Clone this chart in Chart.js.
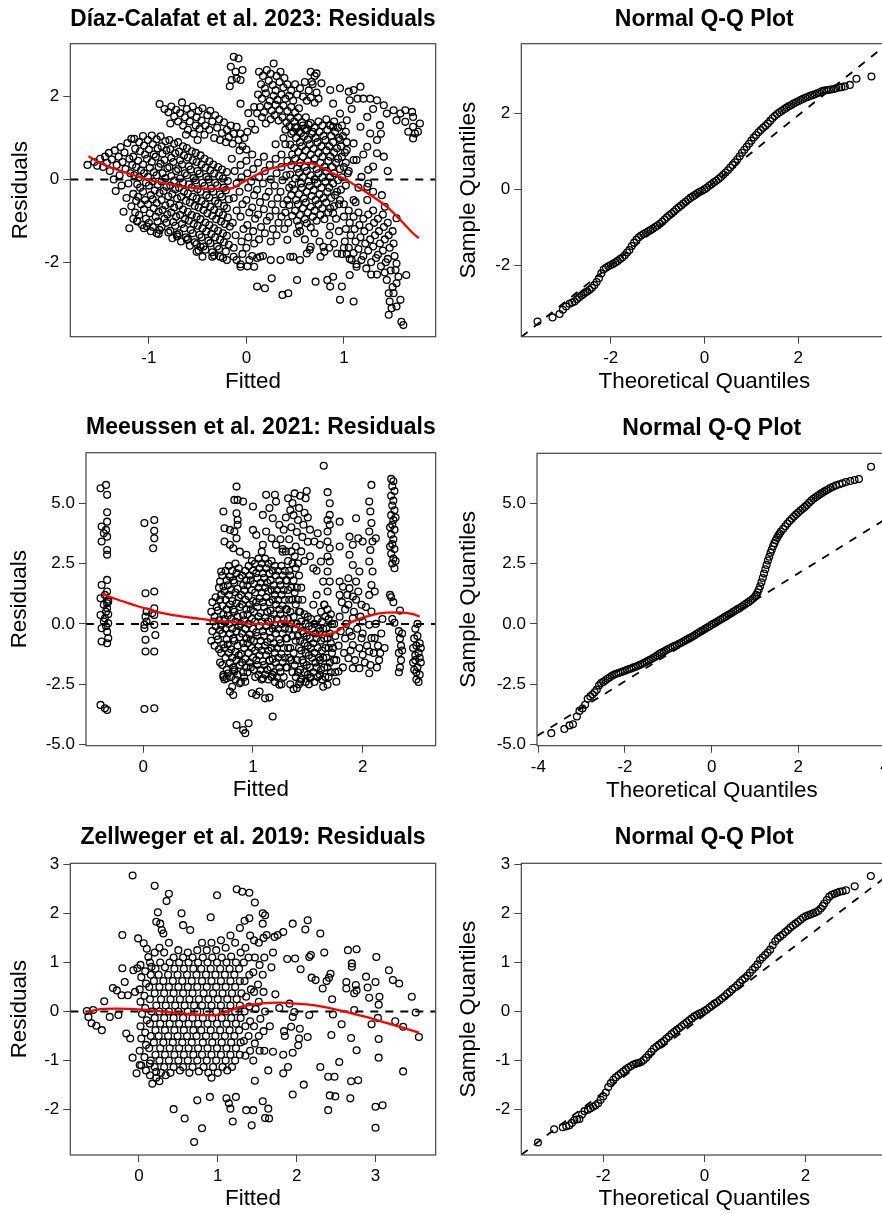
<!DOCTYPE html>
<html>
<head>
<meta charset="utf-8">
<script src="https://cdn.jsdelivr.net/npm/chart.js@4.4.1/dist/chart.umd.min.js"></script>
<style>
html, body { margin: 0; padding: 0; background: #fff; overflow: hidden; }
#page { position: relative; width: 882px; height: 1214px; overflow: hidden; background: #fff; }
#page canvas { position: absolute; }
</style>
</head>
<body>
<div id="page">
  <canvas id="p1" width="441" height="405" style="left:0;top:0"></canvas>
  <canvas id="p2" width="470" height="405" style="left:441px;top:0"></canvas>
  <canvas id="p3" width="441" height="410" style="left:0;top:405px"></canvas>
  <canvas id="p4" width="470" height="410" style="left:441px;top:405px"></canvas>
  <canvas id="p5" width="441" height="399" style="left:0;top:815px"></canvas>
  <canvas id="p6" width="470" height="399" style="left:441px;top:815px"></canvas>
</div>
<script>
// ---- tick labels ----
const diazXTicks = [-1, 0, 1];
const diazYTicks = [-2, 0, 2];
const diazQQXTicks = [-2, 0, 2];
const diazQQYTicks = [-2, 0, 2];
const meeXTicks = [0, 1, 2];
const meeYTicks = [-5, -2.5, 0, 2.5, 5];
const meeQQXTicks = [-4, -2, 0, 2, 4];
const meeQQYTicks = [-5, -2.5, 0, 2.5, 5];
const zelXTicks = [0, 1, 2, 3];
const zelYTicks = [-2, -1, 0, 1, 2, 3];
const zelQQXTicks = [-2, 0, 2];
const zelQQYTicks = [-2, -1, 0, 1, 2, 3];

// ---- Díaz-Calafat et al. 2023: [fitted, residual] ----
const diazPoints = [
[-1.63,0.35],[-1.56,0.42],[-1.53,0.33],[-1.5,0.5],[-1.47,0.3],[-1.45,0.55],[-1.43,0.4],[-1.41,0.64],[-1.4,0.2],[-1.38,0.48],[-1.36,0.0],[-1.35,0.7],[-1.34,-0.28],[-1.33,0.35],[-1.31,0.55],[-1.3,0.1],[-1.29,0.78],[-1.28,-0.15],[-1.27,0.42],[-1.26,-0.78],[-1.25,0.65],[-1.24,0.25],[-1.23,-0.45],[-1.22,0.88],[-1.21,-0.1],[-1.2,-1.18],[-1.2,0.5],[-1.19,0.15],[-1.18,-0.65],[-1.18,0.98],[-1.16,-0.95],[-1.17,0.35],
[-1.15,0.98],[-1.14,0.74],[-1.16,0.55],[-1.13,0.3],[-1.15,0.1],[-1.12,-0.12],[-1.16,-0.35],[-1.13,-0.52],[-1.14,-0.8],[-1.12,-1.0],
[-1.1,0.9],[-1.09,0.68],[-1.11,0.45],[-1.08,0.22],[-1.1,0.05],[-1.09,-0.2],[-1.11,-0.42],[-1.08,-0.6],[-1.1,-0.86],[-1.07,-1.1],
[-1.06,1.05],[-1.05,0.82],[-1.04,0.6],[-1.06,0.36],[-1.05,0.15],[-1.03,-0.08],[-1.06,-0.3],[-1.04,-0.5],[-1.05,-0.72],[-1.03,-0.95],[-1.05,-1.18],
[-1.01,0.95],[-1.0,0.72],[-1.02,0.5],[-0.99,0.28],[-1.01,0.06],[-1.0,-0.15],[-0.98,-0.38],[-1.01,-0.6],[-0.99,-0.82],[-1.0,-1.05],[-0.98,-1.25],
[-0.97,1.06],[-0.96,0.85],[-0.95,0.6],[-0.97,0.42],[-0.95,0.17],[-0.96,-0.05],[-0.94,-0.27],[-0.96,-0.48],[-0.95,-0.7],[-0.93,-0.9],[-0.96,-1.15],
[-0.92,0.97],[-0.91,0.75],[-0.93,0.55],[-0.9,0.3],[-0.92,0.1],[-0.91,-0.13],[-0.89,-0.33],[-0.92,-0.57],[-0.9,-0.78],[-0.91,-1.02],[-0.89,-1.22],[-0.9,-1.32],
[-0.88,1.04],[-0.87,0.8],[-0.86,0.62],[-0.88,0.38],[-0.86,0.15],[-0.87,-0.05],[-0.85,-0.28],[-0.87,-0.5],[-0.86,-0.74],[-0.84,-0.95],[-0.87,-1.15],
[-0.83,0.92],[-0.82,0.7],[-0.84,0.47],[-0.81,0.27],[-0.83,0.03],[-0.82,-0.18],[-0.8,-0.41],[-0.83,-0.63],[-0.81,-0.85],[-0.82,-1.05],[-0.8,-1.28],
[-0.79,0.95],[-0.78,0.73],[-0.77,0.52],[-0.79,0.3],[-0.77,0.08],[-0.78,-0.15],[-0.76,-0.35],[-0.78,-0.58],[-0.77,-0.8],[-0.75,-1.03],[-0.78,-1.24],[-0.76,-1.42],
[-0.74,0.86],[-0.73,0.63],[-0.75,0.42],[-0.72,0.2],[-0.74,-0.03],[-0.73,-0.24],[-0.71,-0.46],[-0.74,-0.68],[-0.72,-0.9],[-0.73,-1.12],[-0.71,-1.33],
[-0.7,0.9],[-0.69,0.67],[-0.68,0.46],[-0.7,0.25],[-0.68,0.02],[-0.69,-0.2],[-0.67,-0.42],[-0.69,-0.63],[-0.68,-0.86],[-0.66,-1.08],[-0.69,-1.3],[-0.67,-1.5],
[-0.65,0.8],[-0.64,0.58],[-0.66,0.36],[-0.63,0.15],[-0.65,-0.08],[-0.64,-0.3],[-0.62,-0.52],[-0.65,-0.73],[-0.63,-0.96],[-0.64,-1.18],[-0.62,-1.4],
[-0.61,0.76],[-0.6,0.53],[-0.59,0.32],[-0.61,0.1],[-0.59,-0.12],[-0.6,-0.34],[-0.58,-0.56],[-0.6,-0.78],[-0.59,-1.0],[-0.57,-1.22],[-0.6,-1.44],[-0.58,-1.6],
[-0.56,0.68],[-0.55,0.46],[-0.57,0.24],[-0.54,0.03],[-0.56,-0.2],[-0.55,-0.42],[-0.53,-0.64],[-0.56,-0.86],[-0.54,-1.08],[-0.55,-1.3],[-0.53,-1.52],
[-0.52,0.64],[-0.51,0.42],[-0.5,0.2],[-0.52,-0.02],[-0.5,-0.24],[-0.51,-0.46],[-0.49,-0.68],[-0.51,-0.9],[-0.5,-1.12],[-0.48,-1.34],[-0.51,-1.56],[-0.49,-1.72],
[-0.47,0.58],[-0.46,0.36],[-0.48,0.14],[-0.45,-0.08],[-0.47,-0.3],[-0.46,-0.52],[-0.44,-0.74],[-0.47,-0.96],[-0.45,-1.18],[-0.46,-1.4],[-0.44,-1.62],
[-0.43,0.5],[-0.42,0.28],[-0.41,0.06],[-0.43,-0.16],[-0.41,-0.38],[-0.42,-0.6],[-0.4,-0.82],[-0.42,-1.04],[-0.41,-1.26],[-0.39,-1.48],[-0.42,-1.7],
[-0.38,0.44],[-0.37,0.22],[-0.39,0.0],[-0.36,-0.22],[-0.38,-0.44],[-0.37,-0.66],[-0.35,-0.88],[-0.38,-1.1],[-0.36,-1.32],[-0.37,-1.54],[-0.35,-1.76],
[-0.34,0.36],[-0.33,0.14],[-0.32,-0.08],[-0.34,-0.3],[-0.32,-0.52],[-0.33,-0.74],[-0.31,-0.96],[-0.33,-1.18],[-0.32,-1.4],[-0.3,-1.62],[-0.33,-1.84],
[-0.29,0.3],[-0.28,0.08],[-0.3,-0.14],[-0.27,-0.36],[-0.29,-0.58],[-0.28,-0.8],[-0.26,-1.02],[-0.29,-1.24],[-0.27,-1.46],[-0.28,-1.68],
[-0.25,0.24],[-0.24,0.02],[-0.23,-0.2],[-0.25,-0.42],[-0.23,-0.64],[-0.24,-0.86],[-0.22,-1.08],[-0.24,-1.3],[-0.23,-1.52],[-0.21,-1.74],[-0.24,-1.9],
[-0.2,0.18],[-0.19,-0.04],[-0.21,-0.26],[-0.18,-0.48],[-0.2,-0.7],[-0.19,-0.92],[-0.17,-1.14],[-0.2,-1.36],[-0.18,-1.58],
[-0.89,1.82],[-0.84,1.7],[-0.8,1.62],[-0.77,1.76],[-0.74,1.52],[-0.72,1.68],[-0.7,1.4],[-0.68,1.6],[-0.66,1.86],[-0.65,1.3],[-0.63,1.5],[-0.61,1.7],[-0.6,1.2],[-0.58,1.4],[-0.57,1.58],[-0.55,1.76],[-0.54,1.1],[-0.52,1.3],[-0.51,1.5],[-0.49,1.65],[-0.48,1.22],[-0.46,1.42],[-0.45,1.72],[-0.43,1.08],[-0.42,1.3],[-0.4,1.55],[-0.38,1.2],[-0.37,1.66],[-0.35,1.4],[-0.33,1.0],[-0.32,1.55],[-0.3,1.25],[-0.28,1.45],[-0.27,0.95],[-0.25,1.12],[-0.23,1.38],[-0.21,0.9],[-0.2,1.2],[-0.18,1.02],[-0.16,1.3],[-0.14,0.86],[-0.13,1.1],[-0.1,1.27],[-0.08,0.95],[-0.06,1.11],[-0.04,0.8],[-0.02,1.0],[0.01,1.15],[0.0,0.72],[-0.78,1.35],[-0.62,1.08],[-0.5,0.95],
[-0.16,2.72],[-0.13,2.96],[-0.08,2.92],[-0.17,2.25],[-0.1,2.44],[-0.15,2.4],[-0.04,2.64],[-0.06,2.4],[-0.11,2.6],[-0.06,1.83],[0.08,1.75],[0.02,1.6],[0.11,1.6],
[0.13,2.6],[0.17,2.5],[0.21,2.64],[0.25,2.55],[0.28,2.8],[0.31,2.5],[0.35,2.6],[0.39,2.45],[0.15,2.3],[0.19,2.2],[0.23,2.38],[0.27,2.28],[0.3,2.15],[0.34,2.35],[0.38,2.22],[0.42,2.3],[0.46,2.15],[0.12,2.05],[0.16,1.95],[0.2,2.08],[0.24,1.9],[0.28,2.02],[0.32,1.92],[0.36,2.05],[0.4,1.95],[0.44,2.02],[0.48,1.9],[0.52,2.05],[0.14,1.75],[0.18,1.62],[0.22,1.78],[0.26,1.66],[0.3,1.8],[0.34,1.68],[0.38,1.78],[0.42,1.65],[0.46,1.75],[0.5,1.62],[0.54,1.72],[0.25,1.45],[0.29,1.55],[0.33,1.42],[0.37,1.5],[0.41,1.38],[0.45,1.48],[0.49,1.4],[0.53,1.5],[0.57,1.38],[0.61,1.5],[0.4,1.2],[0.44,1.28],[0.48,1.15],[0.52,1.25],[0.56,1.12],[0.6,1.22],[0.64,1.32],[0.68,1.15],[0.5,2.3],[0.55,2.2],[0.6,2.35],[0.64,2.15],[0.68,2.3],[0.72,2.1],[0.7,2.5],[0.66,2.6],[0.58,2.0],[0.62,1.9],[0.66,1.98],[0.7,1.85],[0.74,1.95],[0.2,1.35],[0.16,1.5],[0.09,1.2],[0.05,1.35],
[0.46,1.1],[0.45,0.84],[0.47,0.6],[0.46,0.34],[0.45,0.12],[0.47,-0.13],[0.46,-0.38],[0.44,-0.62],[0.47,-0.88],
[0.5,1.26],[0.51,1.0],[0.49,0.76],[0.5,0.5],[0.52,0.26],[0.5,0.02],[0.49,-0.24],[0.51,-0.5],[0.5,-0.76],[0.52,-1.0],
[0.54,1.15],[0.55,0.9],[0.53,0.66],[0.55,0.4],[0.54,0.16],[0.56,-0.1],[0.54,-0.36],[0.53,-0.6],[0.55,-0.86],[0.54,-1.12],
[0.58,1.3],[0.59,1.04],[0.57,0.8],[0.58,0.55],[0.6,0.3],[0.58,0.05],[0.57,-0.2],[0.59,-0.46],[0.58,-0.7],[0.6,-0.96],
[0.62,1.2],[0.63,0.96],[0.61,0.7],[0.63,0.44],[0.62,0.2],[0.64,-0.05],[0.62,-0.3],[0.61,-0.56],[0.63,-0.8],[0.62,-1.06],
[0.66,1.36],[0.67,1.1],[0.65,0.85],[0.66,0.6],[0.68,0.35],[0.66,0.1],[0.65,-0.16],[0.67,-0.4],[0.66,-0.66],[0.68,-0.9],[0.66,-1.16],
[0.7,1.25],[0.71,1.0],[0.69,0.74],[0.7,0.5],[0.72,0.25],[0.7,0.0],[0.69,-0.26],[0.71,-0.5],[0.7,-0.76],[0.72,-1.0],
[0.74,1.4],[0.75,1.15],[0.73,0.9],[0.74,0.64],[0.76,0.4],[0.74,0.15],[0.73,-0.1],[0.75,-0.36],[0.74,-0.6],[0.76,-0.86],
[0.78,1.3],[0.79,1.05],[0.77,0.8],[0.78,0.55],[0.8,0.3],[0.78,0.05],[0.77,-0.2],[0.79,-0.45],[0.78,-0.7],[0.8,-0.96],
[0.82,1.45],[0.83,1.2],[0.81,0.95],[0.82,0.7],[0.84,0.45],[0.82,0.2],[0.81,-0.05],[0.83,-0.3],[0.82,-0.56],[0.84,-0.8],
[0.86,1.3],[0.87,1.05],[0.85,0.8],[0.86,0.55],[0.88,0.3],[0.86,0.05],[0.85,-0.2],[0.87,-0.45],[0.86,-0.7],
[0.9,1.4],[0.91,1.15],[0.89,0.9],[0.9,0.65],[0.92,0.4],[0.9,0.15],[0.89,-0.1],[0.91,-0.38],[0.9,-0.65],
[0.94,1.25],[0.95,1.0],[0.93,0.75],[0.94,0.5],[0.96,0.25],[0.94,-0.02],[0.93,-0.3],[0.95,-0.6],
[0.98,1.3],[0.99,1.05],[0.97,0.8],[0.98,0.55],[1.0,0.3],[0.98,0.05],[0.97,-0.25],
[1.02,1.15],[1.03,0.9],[1.01,0.65],[1.02,0.4],[1.04,0.15],[1.02,-0.15],
[0.89,-0.82],[0.96,-0.5],[0.86,-1.14],[0.92,-0.95],[1.0,-0.6],[0.55,-1.25],[0.6,-1.45],[0.7,-1.3],[0.75,-1.5],[0.85,-1.35],[0.9,-1.55],[0.95,-1.25],[0.65,-1.7],[0.8,-1.75],[1.0,-1.65],[0.98,-1.8],[0.85,-1.65],
[-0.15,0.5],[-0.12,0.2],[-0.1,-0.1],[-0.13,-0.45],[-0.1,-0.75],[-0.14,-1.05],[-0.11,-1.35],[-0.13,-1.65],[-0.1,-1.95],[-0.07,0.7],[-0.06,0.35],[-0.05,0.05],[-0.07,-0.3],[-0.04,-0.6],[-0.06,-0.9],[-0.03,-1.2],[-0.05,-1.5],[-0.04,-1.8],[-0.06,-2.05],[0.0,0.45],[0.01,0.15],[0.02,-0.2],[0.0,-0.5],[0.03,-0.8],[0.01,-1.1],[0.02,-1.4],[0.0,-1.65],[0.03,-1.95],[0.01,-2.1],[0.06,0.6],[0.07,0.25],[0.05,-0.05],[0.08,-0.38],[0.06,-0.68],[0.09,-0.95],[0.07,-1.25],[0.08,-1.55],[0.06,-1.85],[0.12,0.4],[0.13,0.05],[0.11,-0.25],[0.14,-0.55],[0.12,-0.85],[0.15,-1.15],[0.13,-1.45],[0.11,-1.9],[0.18,0.55],[0.19,0.2],[0.17,-0.1],[0.2,-0.42],[0.18,-0.72],[0.21,-1.0],[0.19,-1.3],[0.17,-1.85],[0.24,0.35],[0.25,0.0],[0.23,-0.3],[0.26,-0.6],[0.24,-0.9],[0.27,-1.2],[0.25,-1.5],[0.3,0.5],[0.31,0.15],[0.29,-0.15],[0.32,-0.45],[0.3,-0.75],[0.33,-1.05],[0.31,-1.35],[0.36,0.3],[0.37,-0.02],[0.35,-0.3],[0.38,-0.6],[0.36,-0.9],[0.39,-1.2],[0.41,0.1],[0.42,-0.5],[0.4,-0.8],[0.43,-1.05],[0.44,-0.2],[0.36,0.6],[0.4,0.85],[0.42,0.45],[0.38,1.0],[0.3,0.85],
[1.0,-0.9],[1.02,-1.2],[1.01,-1.5],[1.03,-1.8],[1.05,-0.75],[1.06,-1.05],[1.07,-1.35],[1.05,-1.65],[1.08,-1.95],[1.1,-0.9],[1.11,-1.2],[1.12,-1.5],[1.1,-1.78],[1.13,-2.05],[1.15,-0.8],[1.16,-1.1],[1.17,-1.4],[1.15,-1.68],[1.18,-1.95],[1.2,-0.95],[1.21,-1.25],[1.22,-1.55],[1.2,-1.85],[1.23,-2.15],[1.25,-0.85],[1.26,-1.15],[1.27,-1.45],[1.25,-1.72],[1.28,-2.0],[1.3,-0.75],[1.31,-1.05],[1.32,-1.35],[1.3,-1.62],[1.33,-1.9],[1.35,-0.95],[1.36,-1.25],[1.37,-1.55],[1.35,-1.82],[1.38,-2.1],[1.4,-0.85],[1.41,-1.15],[1.42,-1.45],[1.4,-1.72],[1.43,-2.0],[1.45,-1.05],[1.46,-1.35],[1.47,-1.65],[1.45,-1.92],[1.48,-2.2],[1.5,-1.25],[1.51,-1.55],[1.52,-1.85],[1.34,-2.3],[1.28,-2.3],[1.06,-1.92],[1.12,-0.55],
[1.44,-2.43],[1.46,-2.75],[1.47,-2.95],[1.46,-3.27],[1.51,-2.75],[1.54,-2.51],[1.53,-2.19],[1.56,-2.35],[1.59,-3.44],[1.61,-3.52],[1.54,-2.03],[1.64,-2.31],[1.49,-3.11],[1.54,-3.07],[1.58,-2.91],[1.5,-2.6],[1.42,-2.25],
[0.72,2.56],[0.67,2.36],[0.77,2.32],[0.86,2.16],[0.96,2.2],[1.05,2.12],[1.1,2.16],[1.17,2.24],[1.06,1.91],[1.2,1.95],[1.27,1.95],[1.34,1.91],[1.41,1.79],[1.51,1.67],[1.58,1.59],[1.63,1.67],[1.7,1.63],[1.71,1.51],[1.71,1.27],[1.73,1.11],[1.71,0.99],[1.78,1.35],[1.76,1.15],[1.66,1.15],[1.63,1.39],[1.54,1.43],[1.37,1.31],[1.44,1.59],[1.24,1.51],[1.17,1.27],[1.27,1.11],[1.34,0.95],[1.24,0.79],[1.41,0.55],[1.3,0.31],[1.1,0.87],[1.13,0.47],[1.18,0.06],[1.25,0.23],[1.34,0.63],[0.89,1.83],[0.96,1.59],[1.03,1.43],[0.89,1.27],[0.96,0.95],[1.03,0.71],[1.1,0.47],[1.25,-0.1],[1.24,-0.18],[1.39,-0.38],[1.54,-0.94],[1.24,-0.5],[1.1,-0.5],[1.42,-0.66],[1.08,1.7],[1.14,1.95],[1.3,1.7],[1.2,0.6],[1.38,1.1],[1.45,0.2],[1.15,-0.2],[1.3,-0.3],[1.05,0.2],
[0.11,-2.59],[0.19,-2.63],[0.37,-2.79],[0.43,-2.75],[0.26,-2.39],[0.25,-1.95],[0.14,-1.87],[0.08,-2.11],[0.35,-1.95],[0.45,-1.87],[0.52,-2.43],[0.55,-1.95],[0.62,-1.79],[0.71,-2.47],[0.76,-1.87],[0.83,-2.43],[0.86,-2.59],[0.89,-2.35],[0.93,-1.79],[0.96,-2.91],[0.98,-2.59],[1.06,-2.31],[1.1,-2.95],[1.13,-2.11],[0.48,-1.87],[0.66,-1.63],[0.79,-1.63],[0.42,-1.46],[0.52,-1.3],[-0.06,-2.11],[-0.13,-1.87],[-0.2,-1.95],[-0.27,-1.87],[-0.35,-1.87],[-0.45,-1.87],[-0.51,-1.75],[-0.47,-1.63],[-0.61,-1.46],[-0.71,-1.38],[-0.92,-1.3],[-1.02,-1.14],[-1.12,-1.02]
];
const diazLowess = [[-1.62,0.56],[-1.49,0.39],[-1.32,0.23],[-1.15,0.1],[-0.99,-0.02],[-0.81,-0.11],[-0.64,-0.18],[-0.47,-0.22],[-0.3,-0.23],[-0.16,-0.22],[-0.06,-0.1],[0.08,0.08],[0.21,0.23],[0.38,0.33],[0.55,0.4],[0.66,0.39],[0.79,0.27],[0.89,0.14],[1.03,-0.02],[1.17,-0.22],[1.3,-0.42],[1.44,-0.66],[1.58,-0.98],[1.71,-1.3],[1.77,-1.42]];

// ---- Díaz-Calafat Q-Q: [theoretical, sample] ----
const diazQQ = [
[-3.56,-3.49],[-3.24,-3.38],[-3.09,-3.29],[-3.02,-3.18],[-2.95,-3.09],[-2.88,-3.02],[-2.82,-2.99],[-2.77,-2.96],[-2.72,-2.9],[-2.67,-2.85],[-2.62,-2.8],[-2.58,-2.76],[-2.54,-2.72],
[-2.5,-2.7],[-2.45,-2.65],[-2.4,-2.6],[-2.35,-2.53],[-2.3,-2.45],[-2.25,-2.35],[-2.2,-2.22],[-2.15,-2.12],[-2.1,-2.07],[-2.05,-2.03],[-2.0,-2.0],[-1.95,-1.97],[-1.9,-1.93],[-1.85,-1.89],[-1.8,-1.84],[-1.75,-1.8],[-1.7,-1.74],[-1.65,-1.67],[-1.6,-1.6],[-1.55,-1.5],[-1.5,-1.41],[-1.45,-1.33],[-1.4,-1.27],[-1.35,-1.22],[-1.3,-1.18],[-1.25,-1.15],[-1.2,-1.11],[-1.15,-1.08],[-1.1,-1.04],[-1.05,-1.0],[-1.0,-0.96],[-0.95,-0.91],[-0.9,-0.86],[-0.85,-0.8],[-0.8,-0.74],[-0.75,-0.69],[-0.7,-0.64],[-0.65,-0.59],[-0.6,-0.53],[-0.55,-0.48],[-0.5,-0.43],[-0.45,-0.38],[-0.4,-0.33],[-0.35,-0.28],[-0.3,-0.23],[-0.25,-0.19],[-0.2,-0.15],[-0.15,-0.11],[-0.1,-0.07],[-0.05,-0.04],
[0.0,0.0],[0.05,0.04],[0.1,0.09],[0.15,0.13],[0.2,0.18],[0.25,0.22],[0.3,0.27],[0.35,0.32],[0.4,0.38],[0.45,0.44],[0.5,0.5],[0.55,0.57],[0.6,0.64],[0.65,0.71],[0.7,0.79],[0.75,0.87],[0.8,0.96],[0.85,1.04],[0.9,1.12],[0.95,1.2],[1.0,1.28],[1.05,1.36],[1.1,1.43],[1.15,1.5],[1.2,1.56],[1.25,1.62],[1.3,1.67],[1.35,1.73],[1.4,1.8],[1.45,1.87],[1.5,1.93],[1.55,1.98],[1.6,2.03],[1.65,2.07],[1.7,2.11],[1.75,2.15],[1.8,2.19],[1.85,2.22],[1.9,2.26],[1.95,2.29],[2.0,2.32],[2.05,2.35],[2.1,2.38],[2.15,2.41],[2.2,2.43],[2.25,2.46],[2.3,2.48],[2.35,2.5],[2.4,2.53],[2.45,2.55],[2.5,2.58],
[2.55,2.6],[2.6,2.61],[2.65,2.62],[2.7,2.63],[2.76,2.64],[2.81,2.66],[2.87,2.68],[2.92,2.69],[2.99,2.71],[3.1,2.75],[3.24,2.91],[3.56,2.97]
];
const diazQQLine = [-0.03, 0.99]; // intercept, slope

// ---- Meeussen et al. 2021: [fitted, residual] ----
const meePoints = [
[-0.39,5.61],[-0.34,5.75],[-0.33,5.34],[-0.33,4.62],[-0.33,4.23],[-0.38,4.03],[-0.36,3.75],[-0.34,3.89],[-0.38,3.41],[-0.33,3.61],[-0.33,3.06],[-0.33,2.86],[-0.33,1.82],[-0.38,1.61],[-0.33,1.34],[-0.39,1.06],[-0.36,0.79],[-0.32,0.92],[-0.33,0.65],[-0.39,0.37],[-0.35,0.23],[-0.32,0.03],[-0.38,-0.18],[-0.33,-0.32],[-0.32,-0.59],[-0.38,-0.73],[-0.33,-0.8],[-0.39,-3.35],[-0.35,-3.49],[-0.33,-3.56],[-0.34,0.5],[-0.32,1.0],[-0.36,0.1],[-0.33,0.85],[-0.35,1.2],[-0.32,0.4],[-0.34,-0.1],
[0.01,4.17],[0.1,4.3],[0.1,3.85],[0.1,3.54],[0.09,3.13],[0.02,1.27],[0.1,1.34],[0.03,0.51],[0.1,0.65],[0.02,0.3],[0.1,0.37],[0.01,-0.04],[0.1,-0.04],[0.02,-0.66],[0.11,-0.46],[0.02,-1.14],[0.1,-1.14],[0.01,-3.52],[0.1,-3.49],[0.03,0.1],[0.08,0.44],[0.01,-0.18],
[0.63,0.9],[0.62,0.5],[0.64,0.1],[0.63,-0.3],[0.62,-0.7],
[0.66,1.1],[0.67,0.7],[0.65,0.3],[0.66,-0.1],[0.67,-0.5],[0.65,-0.9],
[0.69,1.5],[0.7,1.0],[0.68,0.55],[0.69,0.15],[0.7,-0.25],[0.68,-0.65],[0.69,-1.05],[0.7,-1.6],
[0.72,2.0],[0.73,1.55],[0.71,1.2],[0.72,0.75],[0.73,0.4],[0.71,-0.05],[0.72,-0.4],[0.73,-0.85],[0.71,-1.2],[0.72,-1.7],[0.73,-2.2],
[0.75,2.2],[0.76,1.8],[0.74,1.35],[0.75,1.0],[0.76,0.6],[0.74,0.2],[0.75,-0.2],[0.76,-0.65],[0.74,-1.0],[0.75,-1.4],[0.76,-1.9],[0.74,-2.3],
[0.78,2.4],[0.79,1.95],[0.77,1.6],[0.78,1.2],[0.79,0.8],[0.77,0.35],[0.78,0.0],[0.79,-0.4],[0.77,-0.85],[0.78,-1.2],[0.79,-1.6],[0.77,-2.05],
[0.81,2.2],[0.82,1.8],[0.8,1.4],[0.81,0.95],[0.82,0.6],[0.8,0.2],[0.81,-0.2],[0.82,-0.6],[0.8,-1.05],[0.81,-1.4],[0.82,-1.8],[0.8,-2.2],[0.81,-2.6],
[0.84,2.5],[0.85,2.1],[0.83,1.7],[0.84,1.3],[0.85,0.85],[0.83,0.5],[0.84,0.1],[0.85,-0.3],[0.83,-0.7],[0.84,-1.15],[0.85,-1.5],[0.83,-1.9],[0.84,-2.3],
[0.87,2.3],[0.88,1.9],[0.86,1.45],[0.87,1.1],[0.88,0.7],[0.86,0.3],[0.87,-0.1],[0.88,-0.55],[0.86,-0.9],[0.87,-1.3],[0.88,-1.7],[0.86,-2.1],
[0.9,2.0],[0.91,1.6],[0.89,1.2],[0.9,0.8],[0.91,0.35],[0.89,0.0],[0.9,-0.4],[0.91,-0.8],[0.89,-1.25],[0.9,-1.6],[0.91,-2.0],[0.89,-2.4],
[0.93,2.2],[0.94,1.8],[0.92,1.4],[0.93,1.0],[0.94,0.6],[0.92,0.15],[0.93,-0.2],[0.94,-0.6],[0.92,-1.0],[0.93,-1.45],[0.94,-1.8],[0.92,-2.2],
[0.96,2.4],[0.97,2.0],[0.95,1.6],[0.96,1.15],[0.97,0.8],[0.95,0.4],[0.96,0.0],[0.97,-0.45],[0.95,-0.8],[0.96,-1.2],[0.97,-1.6],[0.95,-2.0],
[0.99,2.6],[1.0,2.2],[0.98,1.8],[0.99,1.4],[1.0,0.95],[0.98,0.6],[0.99,0.2],[1.0,-0.2],[0.98,-0.65],[0.99,-1.0],[1.0,-1.4],[0.98,-1.8],
[1.02,2.5],[1.03,2.1],[1.01,1.65],[1.02,1.3],[1.03,0.9],[1.01,0.5],[1.02,0.1],[1.03,-0.35],[1.01,-0.7],[1.02,-1.1],[1.03,-1.5],[1.01,-1.9],[1.02,-2.2],
[1.05,2.7],[1.06,2.3],[1.04,1.9],[1.05,1.5],[1.06,1.05],[1.04,0.7],[1.05,0.3],[1.06,-0.1],[1.04,-0.5],[1.05,-0.95],[1.06,-1.3],[1.04,-1.7],[1.05,-2.1],
[1.08,2.5],[1.09,2.1],[1.07,1.7],[1.08,1.3],[1.09,0.9],[1.07,0.45],[1.08,0.1],[1.09,-0.3],[1.07,-0.7],[1.08,-1.1],[1.09,-1.55],[1.07,-1.9],[1.08,-2.3],
[1.11,2.7],[1.12,2.3],[1.1,1.9],[1.11,1.5],[1.12,1.1],[1.1,0.7],[1.11,0.25],[1.12,-0.1],[1.1,-0.5],[1.11,-0.9],[1.12,-1.3],[1.1,-1.7],[1.11,-2.1],
[1.14,2.5],[1.15,2.1],[1.13,1.7],[1.14,1.35],[1.15,0.9],[1.13,0.5],[1.14,0.1],[1.15,-0.3],[1.13,-0.75],[1.14,-1.1],[1.15,-1.5],[1.13,-1.9],[1.14,-2.3],
[1.17,2.6],[1.18,2.2],[1.16,1.8],[1.17,1.4],[1.18,1.0],[1.16,0.55],[1.17,0.2],[1.18,-0.2],[1.16,-0.6],[1.17,-1.0],[1.18,-1.45],[1.16,-1.8],[1.17,-2.2],
[1.2,2.4],[1.21,2.0],[1.19,1.6],[1.2,1.2],[1.21,0.8],[1.19,0.4],[1.2,-0.05],[1.21,-0.4],[1.19,-0.8],[1.2,-1.2],[1.21,-1.6],[1.19,-2.0],[1.2,-2.4],
[1.23,2.2],[1.24,1.8],[1.22,1.4],[1.23,1.0],[1.24,0.6],[1.22,0.2],[1.23,-0.2],[1.24,-0.65],[1.22,-1.0],[1.23,-1.4],[1.24,-1.8],[1.22,-2.2],
[1.26,2.4],[1.27,2.0],[1.25,1.6],[1.26,1.2],[1.27,0.75],[1.25,0.4],[1.26,0.0],[1.27,-0.4],[1.25,-0.8],[1.26,-1.25],[1.27,-1.6],[1.25,-2.0],[1.26,-2.5],
[1.29,2.2],[1.3,1.8],[1.28,1.4],[1.29,1.0],[1.3,0.6],[1.28,0.2],[1.29,-0.2],[1.3,-0.6],[1.28,-1.0],[1.29,-1.4],[1.3,-1.8],[1.28,-2.2],
[1.32,2.6],[1.33,2.2],[1.31,1.8],[1.32,1.4],[1.33,1.0],[1.31,0.6],[1.32,0.2],[1.33,-0.2],[1.31,-0.6],[1.32,-1.0],[1.33,-1.4],[1.31,-1.8],
[1.35,3.0],[1.36,2.5],[1.34,2.0],[1.35,1.5],[1.36,1.0],[1.34,0.5],[1.35,0.0],[1.36,-0.5],[1.34,-1.0],[1.35,-1.5],[1.36,-2.0],[1.34,-2.5],
[1.38,2.8],[1.39,2.3],[1.37,1.8],[1.38,1.3],[1.39,0.8],[1.37,0.3],[1.38,-0.2],[1.39,-0.7],[1.37,-1.2],[1.38,-1.7],[1.39,-2.2],[1.37,-2.7],
[1.41,2.5],[1.42,2.0],[1.4,1.5],[1.41,1.0],[1.42,0.5],[1.4,0.0],[1.41,-0.5],[1.42,-1.0],[1.4,-1.5],[1.41,-2.0],[1.42,-2.5],
[1.44,1.5],[1.45,1.0],[1.43,0.5],[1.44,0.1],[1.45,-0.3],[1.43,-0.7],[1.44,-1.1],[1.45,-1.5],[1.43,-1.9],[1.44,-2.3],
[1.47,0.4],[1.48,0.0],[1.46,-0.4],[1.47,-0.8],[1.48,-1.2],[1.46,-1.6],[1.47,-2.0],[1.48,-2.4],
[1.5,0.3],[1.51,-0.1],[1.49,-0.5],[1.5,-0.9],[1.51,-1.3],[1.49,-1.7],[1.5,-2.1],[1.51,-2.5],
[1.53,0.2],[1.54,-0.2],[1.52,-0.6],[1.53,-1.0],[1.54,-1.4],[1.52,-1.8],[1.53,-2.2],
[1.56,0.0],[1.57,-0.4],[1.55,-0.8],[1.56,-1.2],[1.57,-1.6],[1.55,-2.0],[1.56,-2.4],
[1.59,0.2],[1.6,-0.2],[1.58,-0.6],[1.59,-1.0],[1.6,-1.4],[1.58,-1.8],[1.59,-2.2],
[1.62,0.5],[1.63,0.1],[1.61,-0.3],[1.62,-0.7],[1.63,-1.1],[1.61,-1.5],[1.62,-1.9],[1.63,-2.3],
[1.65,0.8],[1.66,0.3],[1.64,-0.2],[1.65,-0.6],[1.66,-1.0],[1.64,-1.4],[1.65,-1.8],[1.66,-2.2],[1.64,-2.6],
[1.68,0.6],[1.69,0.2],[1.67,-0.2],[1.68,-0.6],[1.69,-1.0],[1.67,-1.4],[1.68,-1.8],[1.69,-2.2],
[1.71,0.4],[1.72,0.0],[1.7,-0.4],[1.71,-0.8],[1.72,-1.2],[1.7,-1.6],[1.71,-2.0],
[1.74,0.0],[1.75,-0.5],[1.73,-1.0],[1.74,-1.5],[1.75,-2.0],
[1.33,3.5],[1.35,4.0],[1.37,4.5],[1.36,5.0],[1.38,5.4],[1.39,3.2],[1.4,3.8],[1.41,4.3],[1.42,4.8],[1.43,5.3],[1.44,3.0],[1.45,3.6],[1.46,4.1],[1.47,4.6],[1.48,5.2],[1.5,3.4],[1.52,3.9],[1.5,4.4],[1.49,5.5],[1.34,4.7],[1.32,5.2],[1.3,4.4],[1.28,3.9],[1.27,3.1],[1.25,3.5],[1.3,3.0],[1.52,2.8],[1.55,2.3],[1.58,2.2],[1.47,2.6],
[0.85,5.68],[0.83,5.13],[0.86,5.13],[0.91,5.06],[1.0,4.86],[0.73,4.65],[0.85,4.58],[0.86,4.3],[0.86,4.1],[0.74,3.96],[0.79,3.89],[0.83,3.82],[0.85,3.54],[0.74,3.41],[0.79,3.27],[0.82,3.13],[0.88,2.99],[0.94,2.86],[1.0,3.89],[1.03,3.68],[1.12,5.34],[1.2,5.34],[1.21,5.06],[1.15,4.79],[1.09,4.51],[1.18,4.37],[1.24,4.1],[1.12,3.82],[1.17,3.54],[1.09,3.27],[1.21,3.27],[1.27,2.99],[1.08,2.99],[0.71,2.17],[0.7,1.75],
[0.85,-4.18],[0.93,-4.52],[0.96,-4.11],[0.91,-4.39],[0.99,-2.87],[1.03,-2.94],[1.06,-2.8],[1.11,-3.08],[1.15,-3.05],[1.18,-3.83],[0.88,-2.46],[0.82,-2.94],[0.79,-2.8],[0.76,-2.25],[0.93,-2.39],[1.09,-2.25],[1.24,-2.52],[1.18,-2.11],[0.83,-1.97],[0.73,-2.11],[1.4,-2.66],[1.43,-2.39],[1.52,-2.25],[1.61,-2.11],[1.68,-2.52],[1.76,-2.39],[1.78,-1.97],
[1.68,5.45],[1.7,4.99],[1.7,4.51],[1.68,4.3],[1.7,4.1],[1.68,3.82],[1.68,3.41],[1.7,3.13],[1.68,2.79],[1.7,2.58],[1.68,2.17],[1.7,1.75],[1.68,1.34],[1.61,3.27],[1.59,3.75],[1.56,3.41],[1.62,2.58],[1.64,1.75],[1.58,1.2],[1.55,0.79],[1.65,0.79],[1.645,6.54],[1.79,4.23],[1.79,3.2],[1.79,1.75],[1.82,1.54],[1.79,1.2],
[1.88,3.61],[1.91,3.27],[1.94,4.37],[1.88,2.86],[1.91,2.44],[1.87,1.89],[1.88,1.48],[1.91,1.13],[1.87,0.79],[1.91,0.23],[1.88,-0.32],[1.91,-0.87],[1.87,-1.42],[1.91,-1.83],[1.96,3.54],[1.97,2.17],[1.94,1.75],[1.96,1.34],[1.99,0.79],[2.0,0.1],[1.99,-0.59],[2.0,-1.28],[1.97,-1.83],
[2.08,5.75],[2.06,5.06],[2.07,4.65],[2.08,4.17],[2.06,3.82],[2.09,3.41],[2.07,3.06],[2.06,2.58],[2.09,2.17],[2.08,1.61],[2.06,1.2],[2.08,0.51],[2.06,-0.04],[2.08,-0.59],[2.06,-1.14],[2.07,-1.7],[2.06,-2.04],[2.11,-0.59],[2.11,1.34],[2.12,3.54],[2.0,3.41],
[1.76,-1.5],[1.78,-0.9],[1.8,-0.3],[1.79,0.3],[1.81,0.9],[1.82,-1.8],[1.83,-1.2],[1.84,-0.6],[1.85,0.0],[1.84,0.6],[1.86,1.2],[1.89,-1.1],[1.9,-0.5],[1.92,0.5],[1.93,-1.5],[1.95,-0.2],[1.94,1.0],[1.97,-1.0],[1.98,0.3],[2.0,-0.4],[2.02,-1.6],[2.03,0.7],[2.04,-0.9],[2.1,-1.2],[2.12,0.0],[2.14,-0.9],[2.15,-1.5],[2.17,-0.4],[2.18,0.2],[2.2,-1.0],[2.13,-1.8],[2.16,-1.2],
[2.26,6.0],[2.28,5.9],[2.27,5.7],[2.29,5.5],[2.26,5.3],[2.28,5.1],[2.27,4.9],[2.29,4.7],[2.26,4.5],[2.28,4.3],[2.27,4.1],[2.29,3.9],[2.26,3.7],[2.28,3.5],[2.27,3.3],[2.29,3.1],[2.26,2.9],[2.28,2.7],[2.27,2.5],[2.29,2.3],[2.25,4.0],[2.3,4.4],[2.25,3.2],[2.3,2.6],[2.26,1.1],[2.28,0.9],[2.27,0.2],[2.29,0.05],[2.25,1.2],
[2.33,-0.3],[2.34,-0.6],[2.35,-0.9],[2.33,-1.2],[2.35,-1.5],[2.34,-1.8],[2.33,-2.0],[2.36,-0.4],[2.36,-1.1],[2.34,0.55],
[2.47,-0.6],[2.49,-0.9],[2.51,-1.2],[2.48,-1.5],[2.5,-1.8],[2.52,-2.1],[2.49,-2.3],[2.46,-1.0],[2.48,-1.3],[2.5,-0.5],[2.52,-0.8],[2.53,-1.6],[2.47,-1.9],[2.51,-2.4],[2.5,0.0],[2.53,-1.0],[2.46,-1.6],[2.49,-2.0],[2.52,-1.4],[2.48,-0.2]
];
const meeLowess = [[-0.38,1.27],[-0.27,1.06],[-0.09,0.79],[0.06,0.58],[0.21,0.41],[0.36,0.3],[0.52,0.21],[0.67,0.12],[0.82,0.07],[1.0,0.0],[1.12,0.0],[1.21,0.07],[1.3,0.1],[1.37,-0.04],[1.49,-0.32],[1.64,-0.46],[1.76,-0.32],[1.88,0.03],[2.03,0.3],[2.19,0.46],[2.34,0.48],[2.46,0.4],[2.52,0.3]];

// ---- Meeussen Q-Q: [theoretical, sample] ----
const meeQQ = [
[-3.7,-4.52],[-3.4,-4.35],[-3.28,-4.2],[-3.2,-4.15],[-3.11,-3.83],[-3.05,-3.6],[-2.98,-3.5],[-2.92,-3.35],[-2.86,-3.1],[-2.8,-3.0],[-2.75,-2.92],[-2.7,-2.83],[-2.65,-2.72],[-2.6,-2.55],[-2.55,-2.45],
[-2.5,-2.4],[-2.45,-2.33],[-2.4,-2.27],[-2.35,-2.21],[-2.3,-2.15],[-2.25,-2.1],[-2.2,-2.06],[-2.15,-2.03],[-2.1,-2.0],[-2.05,-1.97],[-2.0,-1.94],[-1.95,-1.9],[-1.9,-1.87],[-1.85,-1.84],[-1.8,-1.8],[-1.75,-1.77],[-1.7,-1.73],[-1.65,-1.69],[-1.6,-1.65],[-1.55,-1.61],[-1.5,-1.56],[-1.45,-1.51],[-1.4,-1.46],[-1.35,-1.41],[-1.3,-1.36],[-1.25,-1.3],[-1.2,-1.24],[-1.15,-1.19],[-1.1,-1.14],[-1.05,-1.09],[-1.0,-1.04],[-0.95,-1.0],[-0.9,-0.95],[-0.85,-0.91],[-0.8,-0.87],[-0.75,-0.82],[-0.7,-0.78],[-0.65,-0.73],[-0.6,-0.68],[-0.55,-0.63],[-0.5,-0.58],[-0.45,-0.53],[-0.4,-0.48],[-0.35,-0.42],[-0.3,-0.37],[-0.25,-0.31],[-0.2,-0.26],[-0.15,-0.2],[-0.1,-0.15],[-0.05,-0.1],
[0.0,-0.04],[0.05,0.01],[0.1,0.06],[0.15,0.12],[0.2,0.17],[0.25,0.22],[0.3,0.28],[0.35,0.33],[0.4,0.39],[0.45,0.44],[0.5,0.5],[0.55,0.55],[0.6,0.61],[0.65,0.66],[0.7,0.72],[0.75,0.78],[0.8,0.84],[0.85,0.9],[0.9,0.97],[0.95,1.04],[1.0,1.12],[1.03,1.2],[1.06,1.3],[1.09,1.42],[1.12,1.56],[1.15,1.72],[1.18,1.9],[1.21,2.08],[1.24,2.26],[1.27,2.44],[1.3,2.62],[1.33,2.78],[1.36,2.94],[1.39,3.08],[1.42,3.22],[1.45,3.34],[1.48,3.46],[1.51,3.56],[1.54,3.66],[1.57,3.74],[1.6,3.82],[1.65,3.93],[1.7,4.04],[1.75,4.15],[1.8,4.26],[1.85,4.35],[1.9,4.44],[1.95,4.53],[2.0,4.61],[2.05,4.69],[2.1,4.76],[2.15,4.84],[2.2,4.92],[2.25,5.01],[2.3,5.1],[2.35,5.18],[2.4,5.24],[2.45,5.3],[2.5,5.36],[2.55,5.42],[2.6,5.48],[2.65,5.53],[2.7,5.58],[2.75,5.63],[2.8,5.67],[2.87,5.73],[2.95,5.78],[3.02,5.82],[3.1,5.87],[3.2,5.91],[3.3,5.95],[3.4,5.99],[3.68,6.5]
];
const meeQQLine = [-0.14, 1.115];

// ---- Zellweger et al. 2019: [fitted, residual] ----
const zelPoints = [
[-0.66,0.01],[-0.64,-0.11],[-0.6,-0.24],[-0.58,0.03],[-0.54,-0.29],[-0.47,-0.38],[-0.44,0.21],[-0.37,-0.11],[-0.33,0.48],[-0.28,0.43],[-0.26,-0.07],[-0.22,0.33],[-0.21,1.56],[-0.21,0.88],[-0.18,0.6],[-0.16,-0.45],[-0.14,0.33],[-0.11,-0.55],[-0.08,2.77],[-0.08,-0.94],[-0.07,0.84],[-0.05,0.4],[-0.03,-1.26],[-0.01,1.49],[-0.02,0.88],[0.01,-1.09],[0.06,1.39],[0.1,1.28],[0.12,1.11],[0.14,-1.06],[0.16,0.91],[0.17,-1.47],[0.2,2.56],[0.22,-1.23],[0.24,2.02],[0.22,1.83],[0.27,1.79],[0.29,1.66],[0.31,1.59],[0.38,2.4],[0.35,2.25],[0.44,-1.99],[0.54,2.0],[0.56,1.76],[0.58,-2.18],[0.65,1.66],[0.7,-2.66],[0.8,-2.38],[0.74,-1.81],[0.9,-1.74],[0.99,2.37],[0.91,1.92],[1.19,-2.24],[1.24,2.49],[1.31,2.44],[1.4,2.42],[1.47,2.22],[1.43,-2.32],[1.36,-2.01],[1.45,-2.01],[1.57,-1.83],[1.6,-2.17],[1.65,-2.18],[1.64,-1.98],[1.16,-1.98],[1.23,-1.74],[1.14,-1.87],[1.11,-1.77],[1.47,-1.41],[1.57,2.0],[1.6,1.96],[1.57,1.79],[1.62,1.56],[1.72,1.52],[1.76,1.56],[1.83,1.62],[1.95,1.79],[1.88,1.07],[1.98,1.08],[2.05,0.86],[2.14,1.86],[2.11,1.67],[2.16,1.11],[2.18,1.15],[2.19,0.69],[2.24,0.64],[2.3,1.59],[2.35,1.2],[2.33,0.47],[2.38,0.62],[2.41,0.69],[2.43,0.77],[2.45,0.25],[2.46,-0.06],[2.44,-0.48],[2.57,-0.26],[2.54,-1.03],[2.3,-1.13],[2.4,-1.33],[2.48,-1.33],[2.42,-1.71],[2.49,-1.73],[2.4,-2.01],[2.65,1.25],[2.76,1.27],[2.7,0.98],[2.7,0.91],[2.63,0.6],[2.63,0.47],[2.75,0.54],[2.76,0.43],[2.73,0.37],[2.73,0.03],[2.69,-0.54],[2.76,-0.79],[2.69,-1.42],[2.78,-1.4],[2.68,-1.77],[2.88,0.71],[2.92,0.28],[2.9,0.49],[2.95,-0.26],[3.0,0.6],[3.01,1.11],[3.03,-0.13],[3.05,0.3],[3.04,0.14],[3.04,-0.56],[3.04,-0.94],[3.0,-1.94],[3.09,-1.91],[3.0,-2.37],[3.17,0.84],[3.22,0.64],[3.3,0.57],[3.25,-0.2],[3.35,-0.31],[3.35,-1.22],[3.46,0.3],[3.51,-0.02],[3.55,-0.52],
[1.73,0.35],[1.78,0.07],[1.84,-0.4],[1.85,-0.5],[1.83,-0.88],[1.89,-1.13],[1.83,-1.26],[1.93,-0.31],[1.95,-0.11],[1.97,-0.01],[1.91,0.16],[1.95,-0.84],[1.95,-1.69],[2.02,-0.69],[2.03,-0.55],[2.04,-0.35],[2.09,-1.49],[2.14,-0.52],[2.16,-0.07],[1.7,-0.82],[1.68,0.9],[1.7,1.2],[1.66,-0.3],[1.64,-1.2],
[0.02,0.95],[0.03,0.7],[0.01,0.45],[0.02,0.2],[0.04,-0.05],[0.02,-0.3],[0.03,-0.55],[0.01,-0.8],[0.03,-1.1],
[0.08,0.82],[0.09,0.57],[0.07,0.32],[0.08,0.07],[0.1,-0.18],[0.08,-0.43],[0.09,-0.68],[0.07,-0.93],[0.09,-1.2],
[0.14,1.0],[0.15,0.75],[0.13,0.5],[0.14,0.25],[0.16,0.0],[0.14,-0.25],[0.15,-0.5],[0.13,-0.75],[0.15,-1.0],[0.14,-1.3],
[0.2,1.2],[0.21,0.87],[0.19,0.62],[0.2,0.37],[0.22,0.12],[0.2,-0.13],[0.21,-0.38],[0.19,-0.63],[0.21,-0.88],[0.2,-1.13],[0.22,-1.35],
[0.26,1.3],[0.27,1.0],[0.25,0.75],[0.26,0.5],[0.28,0.25],[0.26,0.0],[0.27,-0.25],[0.25,-0.5],[0.27,-0.75],[0.26,-1.0],[0.28,-1.25],[0.26,-1.42],
[0.32,1.2],[0.33,0.9],[0.31,0.62],[0.32,0.37],[0.34,0.12],[0.32,-0.13],[0.33,-0.38],[0.31,-0.63],[0.33,-0.88],[0.32,-1.13],[0.34,-1.3],
[0.38,1.4],[0.39,1.0],[0.37,0.75],[0.38,0.5],[0.4,0.25],[0.38,0.0],[0.39,-0.25],[0.37,-0.5],[0.39,-0.75],[0.38,-1.0],[0.4,-1.25],
[0.44,1.1],[0.45,0.87],[0.43,0.62],[0.44,0.37],[0.46,0.12],[0.44,-0.13],[0.45,-0.38],[0.43,-0.63],[0.45,-0.88],[0.44,-1.13],
[0.5,1.25],[0.51,1.0],[0.49,0.75],[0.5,0.5],[0.52,0.25],[0.5,0.0],[0.51,-0.25],[0.49,-0.5],[0.51,-0.75],[0.5,-1.0],[0.52,-1.2],
[0.56,1.1],[0.57,0.87],[0.55,0.62],[0.56,0.37],[0.58,0.12],[0.56,-0.13],[0.57,-0.38],[0.55,-0.63],[0.57,-0.88],[0.56,-1.13],
[0.62,1.2],[0.63,1.0],[0.61,0.75],[0.62,0.5],[0.64,0.25],[0.62,0.0],[0.63,-0.25],[0.61,-0.5],[0.63,-0.75],[0.62,-1.0],[0.64,-1.25],
[0.68,1.1],[0.69,0.87],[0.67,0.62],[0.68,0.37],[0.7,0.12],[0.68,-0.13],[0.69,-0.38],[0.67,-0.63],[0.69,-0.88],[0.68,-1.13],
[0.74,1.25],[0.75,1.0],[0.73,0.75],[0.74,0.5],[0.76,0.25],[0.74,0.0],[0.75,-0.25],[0.73,-0.5],[0.75,-0.75],[0.74,-1.0],[0.76,-1.22],
[0.8,1.4],[0.81,1.1],[0.79,0.87],[0.8,0.62],[0.82,0.37],[0.8,0.12],[0.81,-0.13],[0.79,-0.38],[0.81,-0.63],[0.8,-0.88],[0.82,-1.13],
[0.86,1.25],[0.87,1.0],[0.85,0.75],[0.86,0.5],[0.88,0.25],[0.86,0.0],[0.87,-0.25],[0.85,-0.5],[0.87,-0.75],[0.86,-1.0],[0.88,-1.25],
[0.92,1.4],[0.93,1.1],[0.91,0.87],[0.92,0.62],[0.94,0.37],[0.92,0.12],[0.93,-0.13],[0.91,-0.38],[0.93,-0.63],[0.92,-0.88],[0.94,-1.13],[0.92,-1.35],
[0.98,1.25],[0.99,1.0],[0.97,0.75],[0.98,0.5],[1.0,0.25],[0.98,0.0],[0.99,-0.25],[0.97,-0.5],[0.99,-0.75],[0.98,-1.0],[1.0,-1.25],
[1.04,1.45],[1.05,1.1],[1.03,0.87],[1.04,0.62],[1.06,0.37],[1.04,0.12],[1.05,-0.13],[1.03,-0.38],[1.05,-0.63],[1.04,-0.88],[1.06,-1.13],
[1.1,1.3],[1.11,1.0],[1.09,0.75],[1.1,0.5],[1.12,0.25],[1.1,0.0],[1.11,-0.25],[1.09,-0.5],[1.11,-0.75],[1.1,-1.0],[1.12,-1.2],
[1.16,1.55],[1.17,1.12],[1.15,0.87],[1.16,0.62],[1.18,0.37],[1.16,0.12],[1.17,-0.13],[1.15,-0.38],[1.17,-0.63],[1.16,-0.88],[1.18,-1.13],
[1.22,1.4],[1.23,1.0],[1.21,0.75],[1.22,0.5],[1.24,0.25],[1.22,0.0],[1.23,-0.25],[1.21,-0.5],[1.23,-0.75],[1.22,-1.0],
[1.28,1.7],[1.29,1.2],[1.27,0.87],[1.28,0.62],[1.3,0.37],[1.28,0.12],[1.29,-0.13],[1.27,-0.38],[1.29,-0.63],[1.28,-0.88],
[1.34,1.85],[1.35,1.3],[1.33,1.0],[1.34,0.62],[1.36,0.3],[1.34,0.0],[1.35,-0.3],[1.33,-0.6],[1.35,-0.9],
[1.4,1.9],[1.41,1.55],[1.39,1.1],[1.4,0.75],[1.42,0.45],[1.4,0.1],[1.41,-0.2],[1.39,-0.5],[1.41,-0.8],
[1.46,1.45],[1.47,1.1],[1.45,0.8],[1.46,0.4],[1.48,0.05],[1.46,-0.3],[1.47,-0.65],[1.45,-1.0],
[1.52,1.4],[1.53,0.95],[1.51,0.55],[1.52,0.2],[1.54,-0.15],[1.52,-0.5],[1.53,-0.8],
[1.58,1.5],[1.59,1.1],[1.57,0.75],[1.58,0.4],[1.6,0.0],[1.58,-0.4],[1.59,-0.8]
];
const zelLowess = [[-0.66,-0.02],[-0.49,0.05],[-0.28,0.06],[-0.07,0.05],[0.14,0.03],[0.35,-0.01],[0.56,-0.04],[0.77,-0.07],[0.94,-0.08],[1.11,-0.01],[1.28,0.09],[1.53,0.16],[1.78,0.18],[1.99,0.16],[2.21,0.13],[2.42,0.07],[2.63,-0.01],[2.88,-0.11],[3.09,-0.21],[3.3,-0.31],[3.55,-0.43]];

// ---- Zellweger Q-Q: [theoretical, sample] ----
const zelQQ = [
[-3.29,-2.67],[-2.97,-2.4],[-2.8,-2.36],[-2.73,-2.34],[-2.67,-2.32],[-2.62,-2.27],[-2.57,-2.21],[-2.52,-2.2],[-2.47,-2.19],[-2.42,-2.1],[-2.37,-2.03],[-2.3,-2.0],
[-2.25,-1.97],[-2.2,-1.94],[-2.15,-1.91],[-2.1,-1.87],[-2.05,-1.8],[-2.0,-1.73],[-1.95,-1.65],[-1.9,-1.54],[-1.85,-1.46],[-1.8,-1.39],[-1.75,-1.34],[-1.7,-1.3],[-1.65,-1.26],[-1.6,-1.22],[-1.55,-1.18],[-1.5,-1.14],[-1.45,-1.11],[-1.4,-1.08],[-1.35,-1.06],[-1.3,-1.05],[-1.25,-1.03],[-1.2,-0.99],[-1.15,-0.94],[-1.1,-0.88],[-1.05,-0.82],[-1.0,-0.76],[-0.95,-0.72],[-0.9,-0.68],[-0.85,-0.64],[-0.8,-0.6],[-0.75,-0.55],[-0.7,-0.51],[-0.65,-0.46],[-0.6,-0.42],[-0.55,-0.38],[-0.5,-0.34],[-0.45,-0.3],[-0.4,-0.26],[-0.35,-0.22],[-0.3,-0.18],[-0.25,-0.14],[-0.2,-0.1],[-0.15,-0.07],[-0.1,-0.04],[-0.05,-0.02],
[0.0,0.01],[0.05,0.04],[0.1,0.08],[0.15,0.12],[0.2,0.16],[0.25,0.19],[0.3,0.23],[0.35,0.27],[0.4,0.31],[0.45,0.36],[0.5,0.4],[0.55,0.45],[0.6,0.49],[0.65,0.54],[0.7,0.59],[0.75,0.64],[0.8,0.68],[0.85,0.73],[0.9,0.79],[0.95,0.85],[1.0,0.9],[1.05,0.96],[1.1,1.05],[1.15,1.1],[1.2,1.15],[1.25,1.2],[1.3,1.26],[1.35,1.35],[1.4,1.43],[1.45,1.49],[1.5,1.53],[1.55,1.57],[1.6,1.62],[1.65,1.66],[1.7,1.71],[1.75,1.75],[1.8,1.79],[1.85,1.83],[1.9,1.87],[1.95,1.91],[2.0,1.94],[2.05,1.96],[2.1,1.98],[2.15,2.0],[2.2,2.02],[2.25,2.05],
[2.3,2.1],[2.34,2.15],[2.37,2.2],[2.42,2.27],[2.47,2.34],[2.52,2.38],[2.57,2.4],[2.62,2.42],[2.67,2.44],[2.73,2.45],[2.8,2.47],[2.97,2.55],[3.29,2.76]
];
const zelQQLine = [-0.075, 0.786];

// ---- drawing ----
const FONT = '"Liberation Sans", Arial, Helvetica, sans-serif';
Chart.defaults.font.family = FONT;
Chart.defaults.color = '#000';

const boxPlugin = {
  id: 'box',
  afterDatasetsDraw(chart) {
    const a = chart.chartArea, ctx = chart.ctx;
    ctx.save();
    ctx.strokeStyle = '#444';
    ctx.lineWidth = 1.2;
    ctx.strokeRect(a.left, a.top, a.right - a.left, a.bottom - a.top);
    ctx.restore();
  }
};

const xy = pts => pts.map(p => ({x: p[0], y: p[1]}));

function pointSet(pts) {
  return {data: xy(pts), showLine: false, pointStyle: 'circle', pointRadius: 3.4, pointBorderWidth: 1.3,
    pointBorderColor: '#000', pointBackgroundColor: 'rgba(0,0,0,0)', clip: 0, order: 3};
}

function lineSet(pts, color, width, dash, order) {
  return {data: xy(pts), showLine: true, pointRadius: 0, borderColor: color, borderWidth: width,
    borderDash: dash, fill: false, cubicInterpolationMode: 'monotone', clip: 0, order: order};
}

function axis(isX, g, txt) {
  const ticks = isX ? txt.xTicks : txt.yTicks;
  const dec = isX ? txt.xDec : txt.yDec;
  const range = isX ? g.x : g.y;
  return {
    type: 'linear', position: isX ? 'bottom' : 'left', min: range[0], max: range[1],
    afterBuildTicks: s => { s.ticks = ticks.map(v => ({value: v})); },
    afterFit: s => { if (isX) s.height = g.H - g.box.b; else s.width = g.box.l; },
    ticks: {autoSkip: false, maxRotation: 0, minRotation: 0, padding: 4, color: '#000', font: {size: 17},
      callback: v => v.toFixed(dec)},
    grid: {display: true, drawOnChartArea: false, drawTicks: true, tickLength: 7, color: '#444', lineWidth: 1},
    border: {display: false},
    title: {display: true, text: isX ? txt.xTitle : txt.yTitle, color: '#000', font: {size: 22.4, lineHeight: 1.2},
      padding: isX ? {top: 0, bottom: g.H - g.xTitleY - 13.4} : {top: g.yTitleX - 13.4, bottom: 0}}
  };
}

function drawPanel(id, g, sets, txt) {
  new Chart(document.getElementById(id), {
    type: 'scatter',
    data: {datasets: sets},
    options: {
      responsive: false, animation: false, events: [], devicePixelRatio: 1,
      layout: {padding: {left: 0, top: 0, bottom: 0, right: g.W - g.box.r}},
      plugins: {
        legend: {display: false},
        tooltip: {enabled: false},
        title: {display: true, text: txt.title, fullSize: false, color: '#000',
          font: {size: 23, weight: 'bold', lineHeight: 1.2},
          padding: {top: g.titleY - 13.8, bottom: g.box.t - g.titleY - 13.8}}
      },
      scales: {x: axis(true, g, txt), y: axis(false, g, txt)}
    },
    plugins: [boxPlugin]
  });
}

function residualPanel(id, g, pts, lowess, txt) {
  const zero = [[g.x[0], 0], [g.x[1], 0]];
  drawPanel(id, g, [
    lineSet(lowess, '#ff0000', 2.3, [], 1),
    lineSet(zero, '#000', 2, [8, 7], 2),
    pointSet(pts)
  ], Object.assign({xTitle: 'Fitted', yTitle: 'Residuals'}, txt));
}

function qqPanel(id, g, pts, line, txt) {
  const ends = [[g.x[0], line[0] + line[1] * g.x[0]], [g.x[1], line[0] + line[1] * g.x[1]]];
  drawPanel(id, g, [
    lineSet(ends, '#000', 1.8, [8, 8], 1),
    pointSet(pts)
  ], Object.assign({title: 'Normal Q-Q Plot', xTitle: 'Theoretical Quantiles', yTitle: 'Sample Quantiles'}, txt));
}

residualPanel('p1', {W: 441, H: 405, box: {l: 70.3, r: 436.3, t: 43.7, b: 336.7}, x: [-1.806, 1.942], y: [-3.80, 3.278],
  titleY: 19.5, yTitleX: 20.3, xTitleY: 381.7}, diazPoints, diazLowess,
  {title: 'Díaz-Calafat et al. 2023: Residuals', xTicks: diazXTicks, yTicks: diazYTicks, xDec: 0, yDec: 0});

qqPanel('p2', {W: 470, H: 405, box: {l: 80.3, r: 446.3, t: 43.7, b: 336.7}, x: [-3.906, 3.898], y: [-3.889, 3.836],
  titleY: 19.7, yTitleX: 28, xTitleY: 381.7}, diazQQ, diazQQLine,
  {xTicks: diazQQXTicks, yTicks: diazQQYTicks, xDec: 0, yDec: 0});

residualPanel('p3', {W: 441, H: 410, box: {l: 86, r: 436.3, t: 47.7, b: 340.7}, x: [-0.5225, 2.666], y: [-5.039, 7.083],
  titleY: 22.8, yTitleX: 20, xTitleY: 385}, meePoints, meeLowess,
  {title: 'Meeussen et al. 2021: Residuals', xTicks: meeXTicks, yTicks: meeYTicks, xDec: 0, yDec: 1});

qqPanel('p4', {W: 470, H: 410, box: {l: 96, r: 445.6, t: 48.3, b: 340.7}, x: [-4.03, 4.039], y: [-5.039, 7.058],
  titleY: 23.3, yTitleX: 28, xTitleY: 385.8}, meeQQ, meeQQLine,
  {xTicks: meeQQXTicks, yTicks: meeQQYTicks, xDec: 0, yDec: 1});

residualPanel('p5', {W: 441, H: 399, box: {l: 70.3, r: 436.3, t: 48.3, b: 340}, x: [-0.87, 3.763], y: [-2.924, 3.02],
  titleY: 22.2, yTitleX: 20, xTitleY: 384.2}, zelPoints, zelLowess,
  {title: 'Zellweger et al. 2019: Residuals', xTicks: zelXTicks, yTicks: zelYTicks, xDec: 0, yDec: 0});

qqPanel('p6', {W: 470, H: 399, box: {l: 80.3, r: 446.3, t: 48.3, b: 340}, x: [-3.619, 3.615], y: [-2.924, 3.02],
  titleY: 22.6, yTitleX: 28, xTitleY: 384}, zelQQ, zelQQLine,
  {xTicks: zelQQXTicks, yTicks: zelQQYTicks, xDec: 0, yDec: 0});
</script>
</body>
</html>
